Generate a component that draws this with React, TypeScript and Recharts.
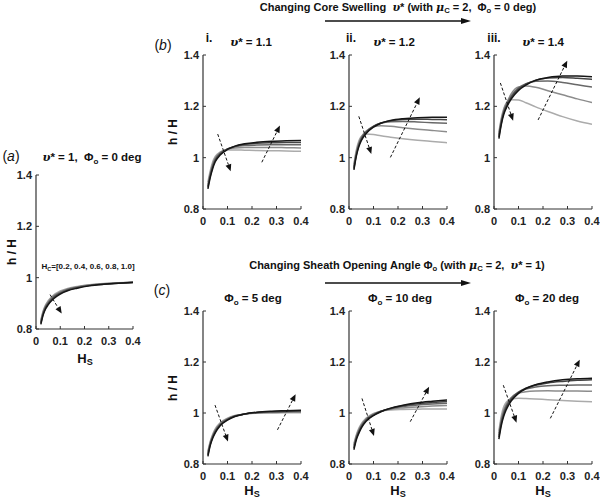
import React from 'react';
import { LineChart, Line, XAxis, YAxis, ReferenceLine } from 'recharts';

// H_S sample points
const hs = [0.02, 0.03, 0.04, 0.05, 0.07, 0.1, 0.13, 0.17, 0.22, 0.28, 0.34, 0.4];
const xTicks = [0, 0.1, 0.2, 0.3, 0.4];
const yTicks = [0.8, 1, 1.2, 1.4];
const lineColors = ['#ababab', '#8c8c8c', '#686868', '#444444', '#151515'];

// (a) v* = 1, phi = 0 deg ; H_C = 0.2 .. 1.0
const panelA = [
  [0.835, 0.872, 0.895, 0.910, 0.930, 0.948, 0.958, 0.966, 0.972, 0.977, 0.980, 0.983],
  [0.830, 0.868, 0.891, 0.906, 0.927, 0.945, 0.956, 0.964, 0.971, 0.976, 0.979, 0.982],
  [0.826, 0.864, 0.887, 0.902, 0.924, 0.942, 0.954, 0.963, 0.970, 0.975, 0.979, 0.982],
  [0.822, 0.860, 0.883, 0.898, 0.920, 0.939, 0.951, 0.961, 0.969, 0.974, 0.978, 0.981],
  [0.818, 0.856, 0.879, 0.894, 0.916, 0.936, 0.949, 0.959, 0.968, 0.974, 0.978, 0.981],
];
// (b) i. v* = 1.1
const panelB1 = [
  [0.905, 0.950, 0.985, 1.005, 1.022, 1.030, 1.030, 1.029, 1.028, 1.027, 1.026, 1.025],
  [0.895, 0.942, 0.977, 0.999, 1.020, 1.033, 1.038, 1.040, 1.040, 1.040, 1.039, 1.038],
  [0.889, 0.936, 0.971, 0.994, 1.017, 1.034, 1.042, 1.047, 1.049, 1.050, 1.050, 1.050],
  [0.884, 0.930, 0.965, 0.989, 1.014, 1.034, 1.044, 1.052, 1.056, 1.058, 1.059, 1.059],
  [0.878, 0.924, 0.959, 0.984, 1.010, 1.032, 1.045, 1.054, 1.060, 1.064, 1.066, 1.067],
];
// (b) ii. v* = 1.2
const panelB2 = [
  [0.975, 1.030, 1.065, 1.082, 1.092, 1.090, 1.085, 1.080, 1.074, 1.068, 1.063, 1.058],
  [0.968, 1.022, 1.058, 1.080, 1.104, 1.120, 1.124, 1.122, 1.117, 1.111, 1.106, 1.101],
  [0.962, 1.016, 1.052, 1.075, 1.101, 1.123, 1.134, 1.140, 1.141, 1.139, 1.136, 1.134],
  [0.957, 1.011, 1.047, 1.071, 1.098, 1.122, 1.135, 1.144, 1.149, 1.150, 1.149, 1.148],
  [0.952, 1.006, 1.042, 1.066, 1.094, 1.119, 1.134, 1.145, 1.152, 1.156, 1.157, 1.157],
];
// (b) iii. v* = 1.4
const panelB3 = [
  [1.100, 1.155, 1.192, 1.212, 1.226, 1.225, 1.214, 1.198, 1.180, 1.160, 1.143, 1.130],
  [1.092, 1.148, 1.187, 1.210, 1.248, 1.275, 1.279, 1.274, 1.261, 1.245, 1.229, 1.215],
  [1.086, 1.142, 1.181, 1.205, 1.240, 1.272, 1.288, 1.298, 1.299, 1.293, 1.284, 1.275],
  [1.080, 1.136, 1.175, 1.199, 1.234, 1.267, 1.286, 1.302, 1.310, 1.312, 1.309, 1.305],
  [1.074, 1.130, 1.169, 1.193, 1.228, 1.262, 1.283, 1.301, 1.312, 1.318, 1.318, 1.315],
];
// (c) phi = 5 deg
const panelC1 = [
  [0.850, 0.890, 0.918, 0.938, 0.962, 0.980, 0.990, 0.996, 0.999, 1.000, 1.001, 1.001],
  [0.845, 0.886, 0.914, 0.934, 0.959, 0.978, 0.989, 0.996, 1.000, 1.002, 1.003, 1.004],
  [0.840, 0.882, 0.910, 0.930, 0.956, 0.976, 0.988, 0.996, 1.001, 1.004, 1.005, 1.006],
  [0.835, 0.878, 0.906, 0.926, 0.953, 0.974, 0.987, 0.996, 1.002, 1.005, 1.007, 1.009],
  [0.830, 0.874, 0.902, 0.922, 0.950, 0.972, 0.986, 0.996, 1.003, 1.007, 1.009, 1.011],
];
// (c) phi = 10 deg
const panelC2 = [
  [0.880, 0.915, 0.940, 0.957, 0.980, 0.998, 1.007, 1.012, 1.014, 1.015, 1.016, 1.016],
  [0.874, 0.910, 0.935, 0.953, 0.977, 0.996, 1.007, 1.015, 1.020, 1.024, 1.027, 1.029],
  [0.868, 0.905, 0.930, 0.949, 0.974, 0.994, 1.007, 1.017, 1.025, 1.031, 1.035, 1.038],
  [0.862, 0.900, 0.925, 0.945, 0.971, 0.992, 1.006, 1.018, 1.028, 1.036, 1.041, 1.045],
  [0.856, 0.895, 0.920, 0.941, 0.968, 0.990, 1.005, 1.019, 1.030, 1.040, 1.046, 1.051],
];
// (c) phi = 20 deg
const panelC3 = [
  [0.930, 0.990, 1.025, 1.042, 1.055, 1.058, 1.057, 1.055, 1.052, 1.049, 1.046, 1.044],
  [0.920, 0.978, 1.013, 1.034, 1.060, 1.077, 1.083, 1.086, 1.087, 1.086, 1.086, 1.085],
  [0.912, 0.968, 1.004, 1.028, 1.058, 1.082, 1.094, 1.102, 1.107, 1.109, 1.110, 1.110],
  [0.905, 0.960, 0.996, 1.021, 1.053, 1.081, 1.097, 1.109, 1.118, 1.124, 1.128, 1.130],
  [0.898, 0.952, 0.988, 1.013, 1.047, 1.077, 1.096, 1.111, 1.122, 1.130, 1.134, 1.136],
];

// dashed trend arrows [x1, y1, x2, y2] in data units
const arrowsA = [[0.058, 0.934, 0.106, 0.86]];
const arrowsB1 = [[0.06, 1.092, 0.113, 0.947], [0.24, 0.982, 0.314, 1.125]];
const arrowsB2 = [[0.04, 1.161, 0.091, 1.014], [0.169, 1.001, 0.289, 1.235]];
const arrowsB3 = [[0.026, 1.291, 0.078, 1.144], [0.18, 1.147, 0.299, 1.378]];
const arrowsC1 = [[0.049, 1.031, 0.102, 0.888], [0.304, 0.934, 0.378, 1.074]];
const arrowsC2 = [[0.053, 1.057, 0.102, 0.91], [0.25, 0.966, 0.327, 1.103]];
const arrowsC3 = [[0.038, 1.109, 0.092, 0.962], [0.23, 0.979, 0.35, 1.209]];

const FONT = '"Liberation Sans", Arial, Helvetica, sans-serif';

const DashedArrow = (props: any) => {
  const { x1, y1, x2, y2 } = props;
  if ([x1, y1, x2, y2].some((v) => typeof v !== 'number' || isNaN(v))) return null;
  const dx = x2 - x1;
  const dy = y2 - y1;
  const len = Math.hypot(dx, dy) || 1;
  const ux = dx / len;
  const uy = dy / len;
  const hl = 7;
  const hw = 3;
  const bx = x2 - ux * hl;
  const by = y2 - uy * hl;
  const pts = `${x2},${y2} ${bx - uy * hw},${by + ux * hw} ${bx + uy * hw},${by - ux * hw}`;
  return (
    <g>
      <line x1={x1} y1={y1} x2={bx} y2={by} stroke="#111" strokeWidth={1} strokeDasharray="3 2" />
      <polygon points={pts} fill="#111" />
    </g>
  );
};

const tickStyle = { fill: '#222', fontSize: 11, fontWeight: 'bold', fontFamily: FONT } as any;

function Panel({ series, px, py, pw, ph, arrows }: any) {
  const ml = 40;
  const mt = 6;
  const mr = 8;
  const xh = 24;
  const data = hs.map((x, i) => {
    const row: any = { x };
    series.forEach((s: number[], k: number) => {
      row['c' + k] = s[i];
    });
    return row;
  });
  return (
    <div style={{ position: 'absolute', left: px - ml, top: py - mt }}>
      <LineChart width={pw + ml + mr} height={ph + mt + xh} data={data} margin={{ top: mt, right: mr, bottom: 0, left: 0 }}>
        <XAxis
          type="number"
          dataKey="x"
          domain={[0, 0.4]}
          ticks={xTicks}
          height={xh}
          tickSize={-3}
          tickMargin={11}
          tick={tickStyle}
          tickFormatter={(v: number) => String(v)}
          axisLine={{ stroke: '#333', strokeWidth: 1.2 }}
          tickLine={{ stroke: '#333' }}
          allowDataOverflow
        />
        <YAxis
          type="number"
          domain={[0.8, 1.4]}
          ticks={yTicks}
          width={ml}
          tickSize={-3}
          tickMargin={7}
          tick={tickStyle}
          tickFormatter={(v: number) => String(v)}
          axisLine={{ stroke: '#333', strokeWidth: 1.2 }}
          tickLine={{ stroke: '#333' }}
          allowDataOverflow
        />
        {series.map((_: any, k: number) => (
          <Line
            key={k}
            type="monotone"
            dataKey={'c' + k}
            stroke={lineColors[k]}
            strokeWidth={1.5}
            dot={false}
            isAnimationActive={false}
          />
        ))}
        {arrows.map((a: number[], k: number) => (
          <ReferenceLine
            key={'ar' + k}
            segment={[{ x: a[0], y: a[1] }, { x: a[2], y: a[3] }]}
            shape={DashedArrow}
            ifOverflow="visible"
          />
        ))}
      </LineChart>
    </div>
  );
}

function T({ x, y, size = 11, weight = 'bold', rotate = 0, style = {}, children }: any) {
  return (
    <div
      style={{
        position: 'absolute',
        left: x,
        top: y,
        transform: `translate(-50%, -50%) rotate(${rotate}deg)`,
        fontFamily: FONT,
        fontSize: size,
        fontWeight: weight,
        color: '#111',
        whiteSpace: 'nowrap',
        lineHeight: 1,
        ...style,
      }}
    >
      {children}
    </div>
  );
}

const Sub = ({ children }: any) => (
  <sub style={{ fontSize: '0.7em', verticalAlign: '-0.3em', lineHeight: 0 }}>{children}</sub>
);
const I = ({ children }: any) => <span style={{ fontStyle: 'italic', fontFamily: '"DejaVu Serif", serif' }}>{children}</span>;

const YLab = ({ x, y }: any) => (
  <T x={x} y={y} size={12} rotate={-90}>
    h / H
  </T>
);
const XLab = ({ x, y }: any) => (
  <T x={x} y={y} size={13}>
    H<Sub>S</Sub>
  </T>
);

export default function App() {
  return (
    <div style={{ position: 'absolute', left: 0, top: 0, width: 600, height: 504, background: '#fff', overflow: 'hidden' }}>
      <Panel series={panelA} px={36} py={175} pw={97} ph={154} arrows={arrowsA} />
      <Panel series={panelB1} px={203} py={55} pw={98} ph={154} arrows={arrowsB1} />
      <Panel series={panelB2} px={349} py={55} pw={98} ph={154} arrows={arrowsB2} />
      <Panel series={panelB3} px={494} py={55} pw={98} ph={154} arrows={arrowsB3} />
      <Panel series={panelC1} px={203} py={311} pw={98} ph={153} arrows={arrowsC1} />
      <Panel series={panelC2} px={349} py={311} pw={98} ph={153} arrows={arrowsC2} />
      <Panel series={panelC3} px={494} py={311} pw={98} ph={153} arrows={arrowsC3} />

      <svg width={600} height={504} style={{ position: 'absolute', left: 0, top: 0, pointerEvents: 'none' }}>
        <line x1={325} y1={21} x2={462} y2={21} stroke="#111" strokeWidth={1.3} />
        <polygon points="471,21 461,18 461,24" fill="#111" />
        <line x1={325} y1={283} x2={462} y2={283} stroke="#111" strokeWidth={1.3} />
        <polygon points="471,283 461,280 461,286" fill="#111" />
      </svg>

      {/* header texts */}
      <T x={398} y={7} size={11}>
        Changing Core Swelling&nbsp; <I>υ</I>* (with <I>μ</I>
        <Sub>C</Sub> = 2,&nbsp; Φ<Sub>o</Sub> = 0 deg)
      </T>
      <T x={397} y={265} size={11}>
        Changing Sheath Opening Angle Φ<Sub>o</Sub> (with <I>μ</I>
        <Sub>C</Sub> = 2,&nbsp; <I>υ</I>* = 1)
      </T>

      {/* panel letters */}
      <T x={11} y={156} size={14} weight="normal">
        (<span style={{ fontStyle: 'italic' }}>a</span>)
      </T>
      <T x={163} y={45} size={14} weight="normal">
        (<span style={{ fontStyle: 'italic' }}>b</span>)
      </T>
      <T x={162} y={290} size={14} weight="normal">
        (<span style={{ fontStyle: 'italic' }}>c</span>)
      </T>

      {/* (a) title */}
      <T x={92} y={158} size={11.5}>
        <I>υ</I>* = 1,&nbsp; Φ<Sub>o</Sub> = 0 deg
      </T>
      <T x={88} y={267} size={8}>
        H<Sub>C</Sub>=[0.2, 0.4, 0.6, 0.8, 1.0]
      </T>

      {/* (b) titles */}
      <T x={209} y={38} size={12}>i.</T>
      <T x={251} y={43} size={11.5}>
        <I>υ</I>* = 1.1
      </T>
      <T x={351} y={38} size={12}>ii.</T>
      <T x={394} y={43} size={11.5}>
        <I>υ</I>* = 1.2
      </T>
      <T x={494} y={38} size={12}>iii.</T>
      <T x={543} y={43} size={11.5}>
        <I>υ</I>* = 1.4
      </T>

      {/* (c) titles */}
      <T x={253} y={299} size={11.5}>
        Φ<Sub>o</Sub> = 5 deg
      </T>
      <T x={400} y={299} size={11.5}>
        Φ<Sub>o</Sub> = 10 deg
      </T>
      <T x={547} y={299} size={11.5}>
        Φ<Sub>o</Sub> = 20 deg
      </T>

      {/* axis labels */}
      <YLab x={12} y={252} />
      <YLab x={173} y={132} />
      <YLab x={173} y={388} />
      <XLab x={85} y={358} />
      <XLab x={252} y={490} />
      <XLab x={398} y={490} />
      <XLab x={543} y={490} />
    </div>
  );
}
